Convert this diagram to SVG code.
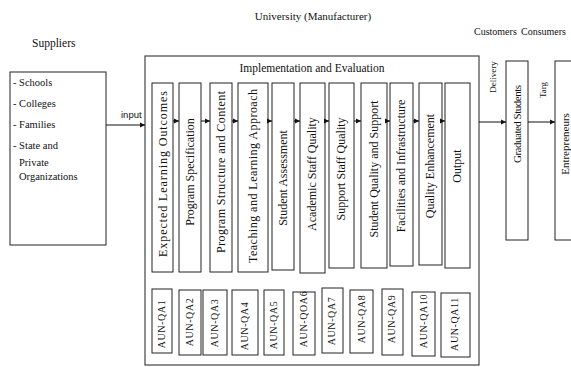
<svg xmlns="http://www.w3.org/2000/svg" width="571" height="367" viewBox="0 0 571 367">
<style>
.t{font-family:"Liberation Serif","Times New Roman",serif;fill:#111}
.col{font-size:12px}
.aun{font-size:10px;letter-spacing:0.6px}
.box{fill:#fff;stroke:#222;stroke-width:1}
.outer{fill:#fff;stroke:#444;stroke-width:1.2}
.ln{stroke:#111;stroke-width:1;fill:none}
</style>
<defs>
<marker id="ah" markerWidth="6" markerHeight="6" refX="5" refY="3" orient="auto" markerUnits="userSpaceOnUse">
<path d="M0,0.5 L5,3 L0,5.5 Z" fill="#111"/>
</marker>
</defs>
<rect width="571" height="367" fill="#fff"/>
<text class="t" x="313" y="20" font-size="11" text-anchor="middle">University (Manufacturer)</text>
<text class="t" x="32" y="47" font-size="11.5">Suppliers</text>
<text class="t" x="474" y="35" font-size="10">Customers</text>
<text class="t" x="521" y="35" font-size="10">Consumers</text>

<g id="suppliers">
<rect class="box" x="10" y="72" width="96" height="173"/>
<text class="t" font-size="10.5">
<tspan x="13" y="86">- Schools</tspan>
<tspan x="13" y="107">- Colleges</tspan>
<tspan x="13" y="128">- Families</tspan>
<tspan x="13" y="149">- State and</tspan>
<tspan x="19" y="166">Private</tspan>
<tspan x="19" y="180">Organizations</tspan>
</text>
</g>

<g id="implementation">
<rect class="outer" x="145" y="56" width="334" height="309"/>
<text class="t" x="312" y="72" font-size="11.5" text-anchor="middle">Implementation and Evaluation</text>
</g>

<g id="c1"><rect class="box" x="152" y="83" width="21" height="189"/><text class="t col" transform="translate(167,174) rotate(-90)" text-anchor="middle" textLength="166" lengthAdjust="spacing">Expected Learning Outcomes</text></g>
<g id="c2"><rect class="box" x="179" y="83" width="22" height="189"/><text class="t col" transform="translate(194,172) rotate(-90)" text-anchor="middle">Program Specification</text></g>
<g id="c3"><rect class="box" x="210" y="83" width="22" height="189"/><text class="t col" transform="translate(225,172) rotate(-90)" text-anchor="middle" textLength="162" lengthAdjust="spacing">Program Structure and Content</text></g>
<g id="c4"><rect class="box" x="238" y="83" width="30" height="189"/><text class="t col" transform="translate(257,176) rotate(-90)" text-anchor="middle" textLength="174" lengthAdjust="spacing">Teaching and Learning Approach</text></g>
<g id="c5"><rect class="box" x="272" y="83" width="22" height="187"/><text class="t col" transform="translate(287,178) rotate(-90)" text-anchor="middle">Student Assessment</text></g>
<g id="c6"><rect class="box" x="300" y="83" width="25" height="190"/><text class="t col" transform="translate(316,174) rotate(-90)" text-anchor="middle">Academic Staff Quality</text></g>
<g id="c7"><rect class="box" x="329" y="83" width="25" height="185"/><text class="t col" transform="translate(345,169) rotate(-90)" text-anchor="middle">Support Staff Quality</text></g>
<g id="c8"><rect class="box" x="361" y="83" width="26" height="185"/><text class="t col" transform="translate(378,169) rotate(-90)" text-anchor="middle">Student Quality and Support</text></g>
<g id="c9"><rect class="box" x="390" y="83" width="23" height="183"/><text class="t col" transform="translate(405,166) rotate(-90)" text-anchor="middle">Facilities and Infrastructure</text></g>
<g id="c10"><rect class="box" x="419" y="83" width="23" height="182"/><text class="t col" transform="translate(434,166) rotate(-90)" text-anchor="middle">Quality Enhancement</text></g>
<g id="c11"><rect class="box" x="445" y="83" width="25" height="185"/><text class="t col" transform="translate(461,166) rotate(-90)" text-anchor="middle">Output</text></g>

<g id="q1"><rect class="box" x="152" y="289" width="20" height="64"/><text class="t aun" transform="translate(165,324) rotate(-90)" text-anchor="middle">AUN-QA1</text></g>
<g id="q2"><rect class="box" x="179" y="290" width="22" height="65"/><text class="t aun" transform="translate(193,322) rotate(-90)" text-anchor="middle">AUN-QA2</text></g>
<g id="q3"><rect class="box" x="203" y="290" width="24" height="65"/><text class="t aun" transform="translate(218,323) rotate(-90)" text-anchor="middle">AUN-QA3</text></g>
<g id="q4"><rect class="box" x="232" y="290" width="26" height="65"/><text class="t aun" transform="translate(248,326) rotate(-90)" text-anchor="middle">AUN-QA4</text></g>
<g id="q5"><rect class="box" x="264" y="290" width="20" height="65"/><text class="t aun" transform="translate(277,325) rotate(-90)" text-anchor="middle">AUN-QA5</text></g>
<g id="q6"><rect class="box" x="293" y="292" width="22" height="63"/><text class="t aun" transform="translate(307,319) rotate(-90)" text-anchor="middle">AUN-QOA6</text></g>
<g id="q7"><rect class="box" x="322" y="288" width="21" height="65"/><text class="t aun" transform="translate(335,321) rotate(-90)" text-anchor="middle">AUN-QA7</text></g>
<g id="q8"><rect class="box" x="350" y="290" width="23" height="63"/><text class="t aun" transform="translate(365,319) rotate(-90)" text-anchor="middle">AUN-QA8</text></g>
<g id="q9"><rect class="box" x="382" y="289" width="21" height="66"/><text class="t aun" transform="translate(395,319) rotate(-90)" text-anchor="middle">AUN-QA9</text></g>
<g id="q10"><rect class="box" x="412" y="292" width="23" height="64"/><text class="t aun" transform="translate(427,321) rotate(-90)" text-anchor="middle">AUN-QA10</text></g>
<g id="q11"><rect class="box" x="441" y="293" width="29" height="64"/><text class="t aun" transform="translate(458,324) rotate(-90)" text-anchor="middle">AUN-QA11</text></g>

<g id="graduated"><rect class="box" x="506" y="61" width="22" height="179"/><text class="t" font-size="11" transform="translate(521,124) rotate(-90)" text-anchor="middle" textLength="78" lengthAdjust="spacing">Graduated Students</text></g>
<g id="entrepreneurs"><rect class="box" x="555" y="61" width="22" height="179"/><text class="t" font-size="11" transform="translate(569,144) rotate(-90)" text-anchor="middle">Entrepreneurs</text></g>

<g id="connectors">
<path class="ln" marker-end="url(#ah)" d="M106,125 H145"/>
<path class="ln" marker-end="url(#ah)" d="M173,121 H179"/>
<path class="ln" marker-end="url(#ah)" d="M201,121 H210"/>
<path class="ln" marker-end="url(#ah)" d="M232,121 H238"/>
<path class="ln" marker-end="url(#ah)" d="M268,121 H272"/>
<path class="ln" marker-end="url(#ah)" d="M294,121 H300"/>
<path class="ln" marker-end="url(#ah)" d="M325,121 H329"/>
<path class="ln" marker-end="url(#ah)" d="M354,121 H361"/>
<path class="ln" marker-end="url(#ah)" d="M387,121 H390"/>
<path class="ln" marker-end="url(#ah)" d="M413,121 H419"/>
<path class="ln" marker-end="url(#ah)" d="M442,121 H445"/>
<path class="ln" marker-end="url(#ah)" d="M479,122 H506"/>
<path class="ln" marker-end="url(#ah)" d="M528,122 H555"/>
<text x="121" y="118" font-family="Liberation Sans, Arial, sans-serif" font-size="9.5" fill="#111">input</text>
<text class="t" font-size="9" transform="translate(496,77) rotate(-90)" text-anchor="middle">Delivery</text>
<text class="t" font-size="9" transform="translate(546,90) rotate(-90)" text-anchor="middle">Targ</text>
</g>
</svg>
